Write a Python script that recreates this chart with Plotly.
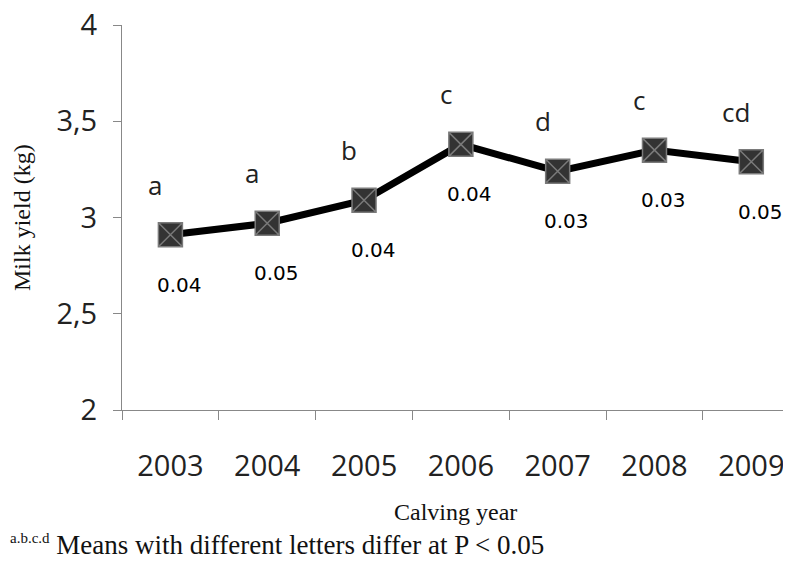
import plotly.graph_objects as go

years = ["2003", "2004", "2005", "2006", "2007", "2008", "2009"]
milk_yield = [2.91, 2.97, 3.09, 3.38, 3.24, 3.35, 3.29]
letters = ["a", "a", "b", "c", "d", "c", "cd"]
se = ["0.04", "0.05", "0.04", "0.04", "0.03", "0.03", "0.05"]
y_ticks = [2, 2.5, 3, 3.5, 4]
y_tick_text = ["2", "2,5", "3", "3,5", "4"]

# page body has an 8px margin in the browser; compensate
W, H = 783, 564
L, T, B = 114, 17, 162
PW, PH = W - L, H - T - B

fig = go.Figure()
fig.add_trace(go.Scatter(
    x=list(range(len(years))), y=milk_yield, mode="lines+markers",
    line=dict(color="black", width=7),
    marker=dict(symbol="square-x", size=24, color="#333333",
                line=dict(color="#7a7a7a", width=1.5)),
    showlegend=False, hoverinfo="y",
))

for i, (y, t) in enumerate(zip(milk_yield, letters)):
    fig.add_annotation(x=i, y=y, text=t, showarrow=False, xshift=-15, yshift=50,
                       font=dict(family="Open Sans", size=26, color="#222"))
for i, (y, t) in enumerate(zip(milk_yield, se)):
    fig.add_annotation(x=i, y=y, text=t, showarrow=False, xshift=9, yshift=-50,
                       font=dict(family="DejaVu Sans", size=20, color="#000"))

fig.add_annotation(xref="paper", yref="paper", x=(447 - L) / PW, y=-(504 - T - PH) / PH,
                   text="Calving year", showarrow=False, xanchor="center", yanchor="middle",
                   font=dict(family="Liberation Serif", size=24, color="#111"))
fig.add_annotation(xref="paper", yref="paper", x=-L / PW, y=-(537 - T - PH) / PH,
                   text="<sup><span style='font-size:15px'>a.b.c.d</span></sup> "
                        "Means with different letters differ at P < 0.05",
                   showarrow=False, xanchor="left", yanchor="middle",
                   font=dict(family="Liberation Serif", size=27, color="#111"))
fig.add_annotation(xref="paper", yref="paper", x=-(L - 14) / PW, y=1 - (210 - T) / PH,
                   text="Milk yield (kg)", showarrow=False, textangle=-90,
                   xanchor="center", yanchor="middle",
                   font=dict(family="Liberation Serif", size=24, color="#111"))

fig.update_xaxes(range=[-0.5, 6.41], tickvals=list(range(len(years))), ticktext=years,
                 ticks="", showline=True, automargin=False,
                 linecolor="#888", linewidth=1, showgrid=False, zeroline=False,
                 ticklabelstandoff=30, ticklabeloverflow="allow",
                 minor=dict(tickvals=[i - 0.5 for i in range(len(years) + 1)],
                            ticks="outside", ticklen=9, tickcolor="#888", showgrid=False),
                 tickfont=dict(family="Open Sans", size=29, color="#222"))
fig.update_yaxes(range=[2, 4], tickvals=y_ticks, ticktext=y_tick_text,
                 ticks="outside", ticklen=8, tickcolor="#888", showline=True,
                 automargin=False,
                 linecolor="#888", linewidth=1, showgrid=False, zeroline=False,
                 ticklabelstandoff=10, ticklabeloverflow="allow",
                 tickfont=dict(family="Open Sans", size=29, color="#222"))

fig.update_layout(width=W, height=H, margin=dict(l=L, r=0, t=T, b=B),
                  plot_bgcolor="white", paper_bgcolor="white")
fig.write_html("out.html")
